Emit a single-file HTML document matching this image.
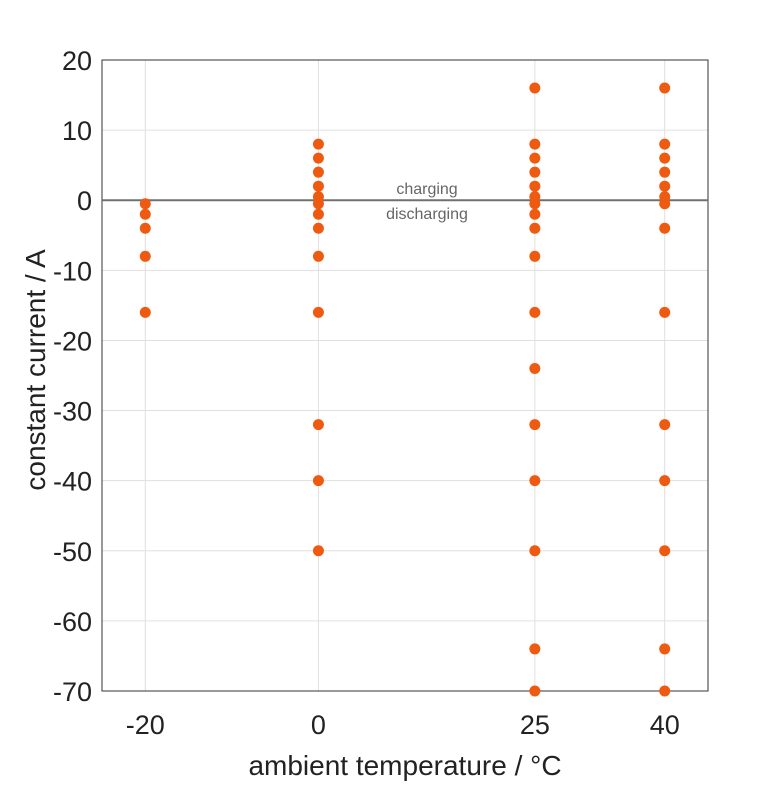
<!DOCTYPE html>
<html><head><meta charset="utf-8"><style>body{margin:0;background:#fff}svg{font-family:"Liberation Sans",sans-serif}</style></head>
<body>
<svg id="chart" width="781" height="781"></svg>
<script>
const xCats=[-20,0,25,40];
const pointsM20=[-0.5,-2,-4,-8,-16];
const points0=[8,6,4,2,0.5,-0.5,-2,-4,-8,-16,-32,-40,-50];
const points25=[16,8,6,4,2,0.5,-0.5,-2,-4,-8,-16,-24,-32,-40,-50,-64,-70];
const points40=[16,8,6,4,2,0.5,-0.5,-4,-16,-32,-40,-50,-64,-70];
const yTicks=[20,10,0,-10,-20,-30,-40,-50,-60,-70];
const xTicks=[-20,0,25,40];
const L=102,R=708,T=60,B=691;
const X=v=>L+(v+25)/70*(R-L);
const Y=v=>T+(20-v)/90*(B-T);
const s=document.getElementById('chart');const NS='http://www.w3.org/2000/svg';
function mk(t,a,p){const e=document.createElementNS(NS,t);for(const k in a)e.setAttribute(k,a[k]);(p||s).appendChild(e);return e;}
yTicks.forEach(v=>{const l=mk('line',{x1:L,x2:R,y1:Y(v),y2:Y(v),stroke:'#e0e0e0'});


const t=mk('text',{x:L-10,y:Y(v)+10,'text-anchor':'end','font-size':27,fill:'#222'});t.textContent=v;

});
xTicks.forEach(v=>{const l=mk('line',{x1:X(v),x2:X(v),y1:T,y2:B,stroke:'#e0e0e0'});


const t=mk('text',{x:X(v),y:734,'text-anchor':'middle','font-size':27,fill:'#222'});t.textContent=v;

});
const fr=mk('rect',{x:L,y:T,width:R-L,height:B-T,fill:'none',stroke:'#333'});


const zl=mk('line',{x1:L,x2:R,y1:Y(0),y2:Y(0),stroke:'#707070','stroke-width':2});


const c1=mk('text',{x:427,y:194,'text-anchor':'middle','font-size':16,fill:'#666'});c1.textContent='charging';


const c2=mk('text',{x:427,y:219,'text-anchor':'middle','font-size':16,fill:'#666'});c2.textContent='discharging';


[pointsM20,points0,points25,points40].forEach((arr,i)=>arr.forEach(v=>{const c=mk('circle',{cx:X(xCats[i]),cy:Y(v),r:5.5,fill:'#ee5a10'});

}));
const xt=mk('text',{x:405,y:775,'text-anchor':'middle','font-size':28,fill:'#222'});xt.textContent='ambient temperature / °C';


const yt=mk('text',{x:0,y:0,'text-anchor':'middle','font-size':28,fill:'#222',transform:'translate(45,370) rotate(-90)'});yt.textContent='constant current / A';


</script>
</body></html>
